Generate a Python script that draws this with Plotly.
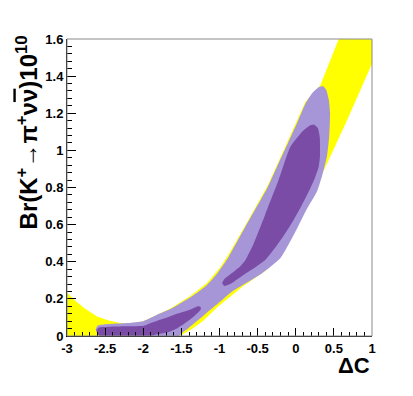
import plotly.graph_objects as go

# Allowed band (yellow): upper-left edge, then lower-right edge
band_upper_x = [-3.05, -3.0, -2.9, -2.77, -2.6, -2.45, -2.3, -2.16, -2.0, -1.9, -1.645, -1.383,
                -1.164, -0.99, -0.88, -0.662, -0.37, -0.215, -0.08, 0.02, 0.125, 0.322, 0.45, 0.563, 0.66]
band_upper_y = [0.255, 0.233, 0.192, 0.15, 0.104, 0.083, 0.07, 0.068, 0.08, 0.098, 0.148, 0.215,
                0.285, 0.37, 0.44, 0.595, 0.81, 0.95, 1.07, 1.16, 1.26, 1.35, 1.48, 1.6, 1.7]
band_lower_x = [1.1, 1.0, 0.67, 0.366, 0.15, -0.1, -0.4, -0.7, -0.9, -1.03, -1.21, -1.35, -1.52, -1.6, -3.05]
band_lower_y = [1.56, 1.466, 1.16, 0.89, 0.70, 0.51, 0.35, 0.265, 0.2, 0.155, 0.083, 0.04, 0.0, -0.04, -0.04]

# Outer contour (light purple)
outer_x = [-2.625, -2.6, -2.5, -2.4, -2.2, -2.0, -1.776, -1.645, -1.34, -1.164, -1.03, -0.88,
           -0.662, -0.37, -0.215, -0.08, 0.02, 0.125, 0.22, 0.30, 0.36, 0.40, 0.435, 0.45,
           0.44, 0.41, 0.35, 0.28, 0.14, 0.0, -0.2, -0.45, -0.65, -0.85, -1.05, -1.25, -1.4,
           -1.5, -1.55, -2.0, -2.5, -2.6]
outer_y = [0.035, 0.055, 0.063, 0.066, 0.07, 0.08, 0.122, 0.145, 0.22, 0.275, 0.337, 0.426,
           0.588, 0.80, 0.94, 1.06, 1.15, 1.25, 1.31, 1.34, 1.345, 1.325, 1.27, 1.2,
           1.08, 0.97, 0.87, 0.78, 0.68, 0.565, 0.42, 0.335, 0.285, 0.235, 0.165, 0.095, 0.045,
           0.015, -0.01, -0.01, -0.01, 0.012]

# Inner contour (dark purple), two islands
inner_top_x = [0.24, 0.29, 0.315, 0.318, 0.30, 0.25, 0.19, 0.06, -0.05, -0.15, -0.27, -0.40,
               -0.55, -0.70, -0.86, -0.94, -0.965, -0.94, -0.85, -0.73, -0.66, -0.55, -0.40,
               -0.225, -0.07, 0.10, 0.19]
inner_top_y = [1.14, 1.12, 1.07, 0.97, 0.91, 0.85, 0.795, 0.69, 0.61, 0.545, 0.475, 0.41,
               0.365, 0.325, 0.28, 0.27, 0.285, 0.305, 0.335, 0.375, 0.41, 0.5, 0.655,
               0.84, 1.02, 1.107, 1.135]
inner_low_x = [-2.615, -2.58, -2.43, -2.2, -1.995, -1.9, -1.7, -1.59, -1.47, -1.35, -1.28, -1.245,
               -1.25, -1.34, -1.45, -1.557, -1.68, -1.85, -2.0, -2.3, -2.55, -2.6]
inner_low_y = [0.032, 0.046, 0.05, 0.052, 0.055, 0.07, 0.098, 0.115, 0.13, 0.148, 0.16, 0.155,
               0.14, 0.104, 0.07, 0.041, 0.02, 0.006, -0.01, -0.01, -0.01, 0.012]

x_tickvals = [-3, -2.5, -2, -1.5, -1, -0.5, 0, 0.5, 1]
x_ticktext = ["-3", "-2.5", "-2", "-1.5", "-1", "-0.5", "0", "0.5", "1"]
y_tickvals = [0, 0.2, 0.4, 0.6, 0.8, 1.0, 1.2, 1.4, 1.6]
y_ticktext = ["0", "0.2", "0.4", "0.6", "0.8", "1", "1.2", "1.4", "1.6"]

YELLOW = "#ffff00"
LIGHT = "#a696d8"
DARK = "#7b4ca6"
FONT = "Liberation Sans, Arial, sans-serif"


def region(xs, ys, color, smooth=True):
    line = dict(width=0, color=color)
    if smooth:
        line.update(shape="spline", smoothing=0.5)
    return go.Scatter(x=xs, y=ys, mode="lines", fill="toself", fillcolor=color,
                      line=line, hoverinfo="skip", showlegend=False)


fig = go.Figure()
fig.add_trace(region(band_upper_x + band_lower_x, band_upper_y + band_lower_y, YELLOW, smooth=False))
fig.add_trace(region(outer_x, outer_y, LIGHT))
fig.add_trace(region(inner_low_x, inner_low_y, DARK))
fig.add_trace(region(inner_top_x, inner_top_y, DARK))

axis_common = dict(
    showgrid=False, zeroline=False, showline=True, linecolor="black", linewidth=1,
    ticks="inside", tickcolor="black", tickwidth=1,
    tickfont=dict(family=FONT, size=13, color="black", weight="bold"),
)
fig.update_xaxes(range=[-3, 1], tickvals=x_tickvals, ticktext=x_ticktext, ticklen=8,
                 minor=dict(dtick=0.1, ticks="inside", ticklen=4, tickcolor="black"),
                 **axis_common)
fig.update_yaxes(range=[0, 1.6], tickvals=y_tickvals, ticktext=y_ticktext, ticklen=9,
                 minor=dict(dtick=0.04, ticks="inside", ticklen=5, tickcolor="black"),
                 **axis_common)

# the page body adds an 8px offset, so the margins are shifted to compensate
fig.update_layout(
    width=413, height=396,
    margin=dict(l=59, r=49, t=31, b=68),
    paper_bgcolor="white", plot_bgcolor="white",
    showlegend=False,
    shapes=[dict(type="rect", xref="paper", yref="paper", x0=0, x1=1, y0=0, y1=1,
                 line=dict(color="#8a8a8a", width=1), layer="above")],
    annotations=[
        dict(text="ΔC", xref="paper", yref="paper", x=1.0, y=-0.10,
             xanchor="right", yanchor="middle", showarrow=False,
             font=dict(family=FONT, size=22, color="black", weight="bold")),
        dict(text="Br(K<sup>+</sup>→π<sup>+</sup>ν<span style='text-decoration:overline'>ν</span>)10<sup>10</sup>",
             xref="paper", yref="paper", x=-0.13, y=1.02, textangle=-90,
             xanchor="center", yanchor="top", showarrow=False,
             font=dict(family=FONT, size=24, color="black", weight="bold")),
    ],
)

fig.write_html("out.html")
